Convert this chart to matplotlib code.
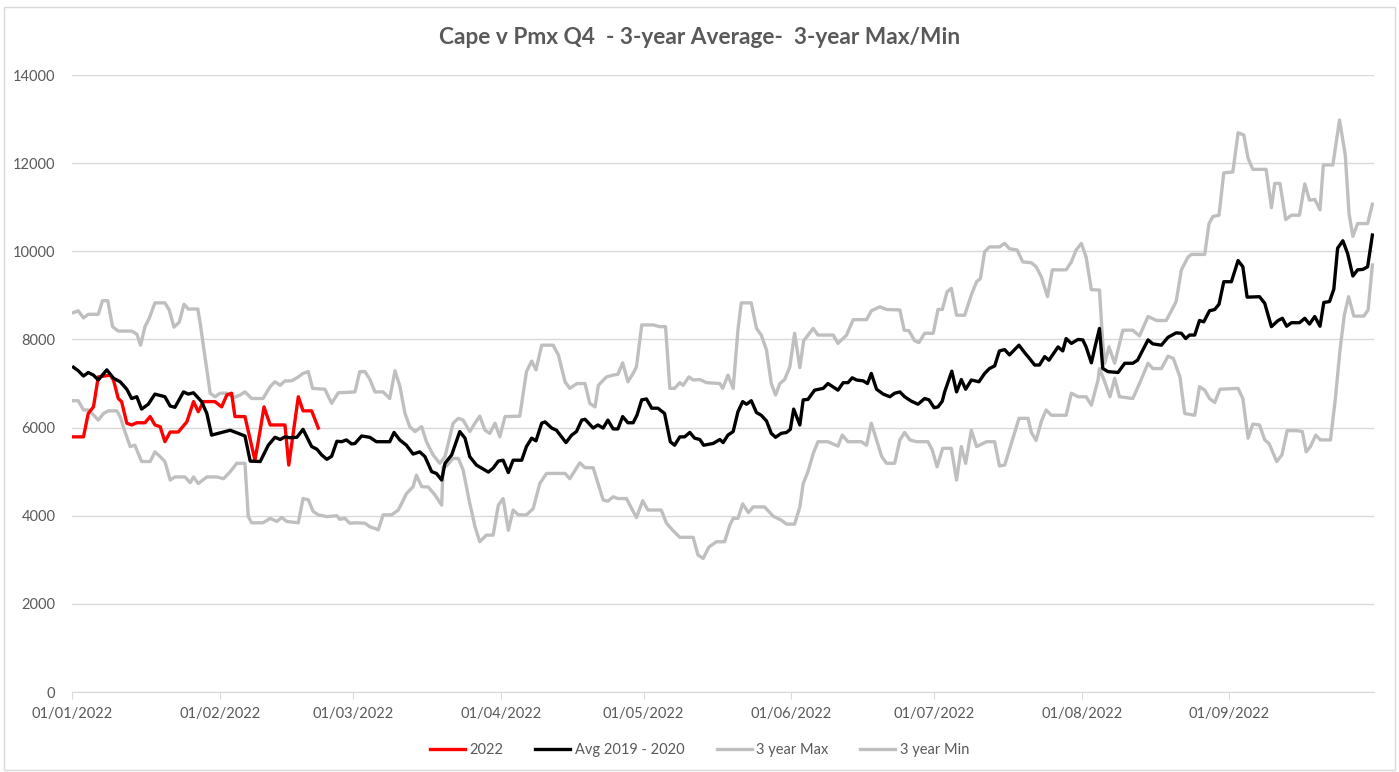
import pandas as pd
import matplotlib.pyplot as plt
import matplotlib.dates as mdates
from matplotlib.patches import Rectangle

# days since 01/01/2022 and values
days_2022 = [0.3, 2.4, 3.4, 4.5, 5.5, 8.0, 8.7, 9.7, 10.4, 11.5, 12.5, 13.6, 15.3, 16.4, 17.4, 18.5,
             19.5, 20.6, 22.3, 24.1, 25.5, 26.5, 27.6, 30.0, 31.4, 32.5, 33.5, 34.2, 36.3, 38.4, 39.5,
             40.3, 41.6, 44.7, 45.5, 47.5, 48.5, 50.3, 51.7]
vals_2022 = [5790, 5790, 6320, 6470, 7150, 7190, 7080, 6660, 6590, 6100, 6060, 6110, 6110, 6250, 6060, 6020,
             5680, 5900, 5900, 6130, 6590, 6360, 6590, 6590, 6470, 6740, 6780, 6250, 6250, 5260, 5940,
             6470, 6060, 6060, 5150, 6700, 6380, 6380, 5990]

days_avg = [0.3, 1.3, 2.4, 3.4, 4.5, 5.5, 7.3, 8.7, 10.1, 11.5, 12.5, 13.6, 14.6, 16.0, 17.4, 19.5,
            20.6, 21.6, 23.4, 24.4, 25.5, 27.2, 28.3, 29.3, 33.2, 34.9, 36.3, 37.4, 39.5, 41.2, 42.6,
            43.7, 44.7, 45.7, 47.2, 48.5, 50.3, 51.4, 52.4, 53.5, 54.5, 55.6, 56.6, 57.6, 58.7, 59.4,
            60.8, 62.5, 63.9, 66.7, 67.6, 68.8, 70.2, 71.6, 73.0, 74.1, 75.5, 76.5, 77.6, 78.3, 79.7,
            81.4, 82.5, 83.5, 84.9, 86.3, 87.4, 88.4, 89.5, 90.5, 91.6, 92.6, 94.4, 95.4, 96.5, 97.4,
            98.6, 99.3, 100.7, 101.7, 103.7, 104.9, 105.9, 107.0, 107.7, 109.4, 110.4, 111.5, 112.5,
            113.6, 114.6, 115.6, 116.7, 117.8, 118.6, 119.6, 120.6, 121.7, 123.0, 124.4, 125.1, 125.6,
            126.5, 127.6, 128.6, 129.7, 130.7, 131.8, 132.6, 134.6, 136.0, 136.7, 137.7, 138.8, 139.8,
            140.8, 141.6, 142.6, 143.7, 144.7, 145.8, 146.8, 147.7, 148.9, 150.0, 150.8, 151.5, 152.8,
            153.5, 154.5, 155.9, 157.7, 158.7, 160.8, 161.9, 162.9, 163.8, 164.7, 166.1, 167.0, 167.8,
            168.9, 170.3, 171.7, 172.7, 173.8, 174.8, 176.2, 177.6, 179.0, 179.9, 181.0, 181.8, 182.7,
            183.2, 184.7, 185.7, 186.7, 187.6, 188.8, 190.4, 191.6, 192.6, 193.7, 194.7, 195.8, 196.8,
            198.8, 200.0, 201.0, 202.1, 203.1, 204.2, 205.1, 207.0, 208.0, 208.7, 209.8, 211.2, 212.2,
            212.9, 214.0, 214.7, 215.7, 216.4, 217.5, 219.6, 221.0, 222.7, 223.7, 224.8, 225.9, 226.9,
            228.7, 230.1, 231.8, 232.9, 233.8, 234.6, 235.7, 236.7, 237.6, 238.8, 239.9, 240.8, 241.8,
            243.4, 244.8, 245.8, 246.7, 249.3, 250.4, 251.8, 253.2, 254.1, 255.0, 256.0, 257.7, 258.8,
            259.8, 260.9, 262.0, 262.8, 264.0, 264.9, 265.7, 266.8, 267.8, 268.9, 269.9, 271.0, 272.0,
            273.0]
vals_avg = [7370, 7290, 7170, 7250, 7190, 7080, 7310, 7120, 7040, 6870, 6660, 6700, 6420, 6530, 6760, 6700,
            6490, 6460, 6810, 6760, 6790, 6590, 6320, 5830, 5940, 5870, 5810, 5240, 5230, 5600, 5780,
            5730, 5790, 5770, 5780, 5960, 5570, 5510, 5380, 5280, 5350, 5690, 5680, 5720, 5630, 5640,
            5810, 5780, 5680, 5680, 5890, 5720, 5600, 5400, 5450, 5340, 5000, 4960, 4810, 5190, 5380,
            5910, 5760, 5340, 5150, 5060, 4990, 5080, 5240, 5260, 4980, 5260, 5260, 5570, 5760, 5700,
            6100, 6130, 5990, 5940, 5660, 5830, 5910, 6170, 6190, 5990, 6060, 5990, 6170,
            5970, 5970, 6250, 6110, 6110, 6280, 6630, 6650, 6440, 6440, 6320, 5940, 5680,
            5600, 5790, 5790, 5890, 5760, 5730, 5600, 5640, 5730, 5660, 5830, 5910, 6360,
            6590, 6530, 6610, 6340, 6280, 6150, 5870, 5780, 5870, 5890, 5960, 6420, 6060,
            6630, 6640, 6850, 6890, 7000, 6850, 7020, 7020, 7130, 7080, 7060, 7000, 7230,
            6870, 6760, 6700, 6780, 6810, 6700, 6600, 6530, 6660, 6630, 6450, 6470, 6600,
            6810, 7280, 6810, 7090, 6870, 7080, 7040, 7230, 7340, 7400, 7740, 7770, 7650,
            7870, 7700, 7570, 7420, 7420, 7610, 7530, 7830, 7740, 8020, 7910, 8000, 7990,
            7830, 7470, 7800, 8250, 7340, 7270, 7250, 7460, 7460, 7530, 7760, 7990, 7900,
            7870, 8050, 8150, 8140, 8020, 8100, 8100, 8430, 8400, 8650, 8680, 8800, 9310,
            9310, 9790, 9650, 8960, 8970, 8820, 8290, 8430, 8480, 8300, 8380, 8380, 8480,
            8350, 8520, 8300, 8840, 8860, 9140, 10070, 10240, 9950, 9440, 9580, 9590, 9650,
            10370]

days_max = [0.3, 1.3, 2.4, 3.4, 5.5, 6.4, 7.5, 8.5, 9.7, 12.5, 13.6, 14.4, 15.3, 16.2, 17.4, 19.5,
            20.4, 21.4, 22.5, 23.5, 24.4, 26.4, 26.9, 29.0, 30.0, 31.1, 32.5, 33.9, 35.3, 36.3, 37.7,
            40.1, 41.6, 42.6, 43.7, 44.7, 46.1, 47.5, 48.5, 49.6, 50.5, 53.1, 54.5, 55.9, 59.4, 60.4,
            61.5, 62.5, 63.6, 65.3, 66.7, 67.8, 68.8, 69.9, 70.9, 72.0, 73.4, 74.4, 75.8, 77.2, 78.3,
            80.0, 81.1, 82.1, 83.5, 84.6, 85.6, 86.7, 87.7, 88.8, 89.8, 90.9, 94.0, 95.4, 96.5, 97.4,
            98.6, 101.0, 102.1, 103.5, 104.5, 106.0, 107.7, 108.7, 109.8, 110.5, 112.2, 113.6, 114.6,
            115.6, 116.7, 117.8, 118.5, 119.6, 122.0, 123.4, 124.6, 125.5, 126.5, 127.6, 128.3, 129.5,
            130.4, 131.8, 133.2, 136.0, 136.6, 137.7, 138.8, 139.8, 140.5, 142.6, 143.7, 144.7, 145.8,
            146.8, 147.7, 148.6, 149.6, 150.7, 151.7, 152.8, 153.6, 155.6, 156.6, 159.8, 160.8, 162.6,
            164.0, 166.8, 167.8, 169.6, 171.0, 173.8, 174.7, 175.7, 176.9, 177.8, 179.0, 180.8, 181.8,
            182.7, 183.7, 184.6, 185.7, 187.4, 188.8, 189.9, 190.7, 191.6, 192.6, 194.7, 195.8, 196.8,
            198.4, 199.6, 201.4, 202.4, 203.5, 204.8, 205.8, 208.7, 209.8, 210.8, 211.9, 212.9, 214.0,
            215.7, 216.4, 216.8, 217.7, 218.9, 220.6, 222.7, 224.1, 225.9, 227.7, 229.7, 230.7, 231.8,
            232.9, 234.3, 235.0, 237.8, 238.7, 239.5, 240.8, 241.8, 243.7, 244.8, 246.0, 246.9, 247.9,
            250.7, 251.8, 252.5, 253.6, 254.8, 256.0, 257.7, 258.8, 259.8, 260.9, 262.0, 262.7, 264.7,
            266.1, 267.3, 268.1, 268.9, 269.9, 272.0, 273.0]
vals_max = [8610, 8650, 8490, 8570, 8570, 8880, 8880, 8290, 8190, 8190, 8120, 7870, 8290, 8480, 8830, 8830,
            8670, 8280, 8390, 8800, 8690, 8690, 8370, 6780, 6700, 6780, 6780, 6680, 6740, 6810, 6660,
            6660, 6930, 7040, 6960, 7060, 7060, 7150, 7230, 7270, 6890, 6870, 6550, 6790, 6810, 7270,
            7270, 7100, 6810, 6810, 6660, 7290, 6950, 6320, 6020, 5910, 6020, 5680, 5380, 5190, 5340,
            6100, 6210, 6170, 5910, 6100, 6260, 5940, 5870, 6100, 5790, 6250, 6260, 7270, 7510, 7310,
            7870, 7870, 7650, 7040, 6890, 7000, 7000, 6550, 6470, 6960, 7150, 7190, 7210,
            7470, 7040, 7230, 7380, 8330, 8330, 8290, 8290, 6890, 6890, 7020, 6960, 7150,
            7080, 7090, 7020, 7000, 6890, 7190, 6890, 8210, 8830, 8830, 8250, 8100, 7760,
            7000, 6740, 7000, 7090, 7380, 8140, 7360, 7970, 8250, 8100, 8100, 7910, 8100,
            8450, 8450, 8650, 8740, 8680, 8670, 8210, 8200, 7970, 7930, 8140, 8140, 8680,
            8680, 9080, 9160, 8550, 8550, 9010, 9310, 9380, 9990, 10100, 10100, 10180, 10060,
            10030, 9760, 9740, 9650, 9420, 8970, 9580, 9580, 9760, 10030, 10180, 9870, 9130,
            9120, 7910, 7460, 7830, 7460, 8210, 8210, 8080, 8520, 8430, 8430, 8630, 8860,
            9580, 9870, 9930, 9930, 10630, 10790, 10820, 11780, 11800, 12690, 12640, 12110, 11860,
            11860, 10990, 11540, 11540, 10720, 10820, 10820, 11530, 11160, 11180, 10940, 11960, 11960,
            12980, 12190, 10850, 10340, 10630, 10630, 11070]

days_min = [0.3, 1.3, 2.4, 3.4, 4.5, 5.5, 6.6, 7.6, 9.4, 10.1, 11.1, 12.2, 13.2, 14.6, 16.4, 17.4,
            18.5, 19.5, 20.6, 21.6, 23.7, 24.8, 25.5, 26.5, 28.3, 30.4, 31.8, 33.2, 34.6, 36.3, 37.0,
            37.7, 40.1, 41.6, 43.0, 44.0, 45.1, 47.5, 48.5, 49.6, 50.6, 51.7, 53.5, 55.6, 56.2, 57.3,
            58.3, 59.7, 61.5, 62.5, 63.6, 64.3, 65.3, 67.1, 68.5, 70.2, 71.6, 72.3, 73.4, 74.8, 76.2,
            77.6, 77.9, 78.6, 80.0, 81.1, 82.1, 83.5, 84.6, 85.6, 87.0, 88.4, 89.5, 90.5, 91.6, 92.6,
            93.7, 95.4, 96.8, 98.2, 99.6, 103.5, 104.5, 106.6, 107.7, 109.4, 111.5, 112.5, 113.6, 114.6,
            116.4, 117.5, 118.5, 119.8, 120.9, 123.7, 124.8, 126.2, 127.6, 130.4, 131.4, 132.5, 133.7,
            135.3, 137.0, 138.1, 138.8, 139.8, 140.8, 142.0, 143.0, 145.4, 147.2, 148.9, 150.0, 151.7,
            152.8, 153.5, 154.5, 155.6, 156.6, 158.7, 160.8, 161.7, 162.9, 165.7, 166.8, 167.8, 168.9,
            170.0, 171.0, 172.7, 173.8, 174.8, 175.9, 177.3, 179.7, 180.6, 181.6, 182.8, 184.6, 185.7,
            186.7, 187.6, 188.8, 189.9, 192.0, 193.7, 194.7, 195.8, 197.2, 198.8, 200.7, 201.4, 202.4,
            203.5, 204.5, 205.6, 208.7, 209.8, 211.2, 212.9, 214.0, 215.4, 215.7, 216.8, 217.9, 218.9,
            219.9, 222.7, 224.1, 225.9, 226.9, 228.7, 230.1, 231.2, 232.6, 233.6, 235.7, 236.7, 237.8,
            238.8, 239.9, 241.0, 244.8, 245.8, 246.9, 247.9, 249.3, 250.4, 251.3, 252.9, 254.0, 255.1,
            257.2, 258.3, 259.1, 260.0, 261.1, 262.1, 264.2, 265.2, 266.2, 267.1, 268.0, 269.1, 271.2,
            272.1, 273.0]
vals_min = [6610, 6610, 6400, 6400, 6290, 6170, 6320, 6380, 6380, 6250, 5910, 5570, 5600, 5230, 5230, 5450,
            5340, 5230, 4810, 4880, 4880, 4750, 4880, 4730, 4880, 4880, 4840, 5000, 5190, 5190, 3980,
            3840, 3840, 3940, 3870, 3960, 3870, 3840, 4390, 4360, 4100, 4020, 3980, 4000, 3920, 3940,
            3830, 3840, 3830, 3750, 3710, 3680, 4020, 4020, 4130, 4500, 4660, 4920, 4660, 4650, 4470,
            4240, 5110, 5130, 5300, 5300, 5040, 4280, 3750, 3410, 3560, 3560, 4240, 4390, 3670, 4130,
            4020, 4020, 4160, 4730, 4960, 4960, 4840, 5200, 5090, 5090, 4360, 4330, 4430, 4390,
            4390, 4160, 3960, 4340, 4130, 4130, 3830, 3660, 3510, 3510, 3110, 3030, 3290,
            3410, 3410, 3790, 3940, 3940, 4270, 4070, 4200, 4200, 3990, 3900, 3810, 3810,
            4200, 4730, 5000, 5410, 5680, 5680, 5580, 5830, 5680, 5680, 5600, 6100, 5720,
            5340, 5190, 5190, 5720, 5890, 5720, 5680, 5680, 5490, 5110, 5530, 5530, 4810,
            5570, 5190, 5940, 5570, 5680, 5680, 5130, 5150, 5640, 6210, 6210, 5890, 5710,
            6140, 6400, 6280, 6280, 6780, 6700, 6700, 6510, 7080, 7340, 7040, 6700, 7120,
            6700, 6660, 7000, 7460, 7340, 7340, 7620, 7570, 7150, 6320, 6280, 6930, 6850,
            6660, 6570, 6870, 6890, 6660, 5760, 6080, 6060, 5720, 5640, 5230, 5380, 5930,
            5930, 5910, 5450, 5570, 5830, 5720, 5720, 6630, 7760, 8550, 8970, 8530, 8530,
            8670, 9690]

start = pd.Timestamp('2022-01-01')


def to_dates(days):
    return start + pd.to_timedelta(days, unit='D')


text_col = '#595959'
grid_col = '#d9d9d9'
gray = '#bfbfbf'
plt.rcParams['font.family'] = ['Lato', 'DejaVu Sans']

fig = plt.figure(figsize=(13.99, 7.72), dpi=100)
ax = fig.add_axes([0.0515, 0.1036, 0.9305, 0.7992])

lw = 2.4
ax.plot(to_dates(days_2022), vals_2022, color='#ff0000', lw=lw, label='2022', zorder=4)
ax.plot(to_dates(days_avg), vals_avg, color='black', lw=lw, label='Avg 2019 - 2020', zorder=5)
ax.plot(to_dates(days_max), vals_max, color=gray, lw=lw, label='3 year Max', zorder=3)
ax.plot(to_dates(days_min), vals_min, color=gray, lw=lw, label='3 year Min', zorder=3)

ax.set_ylim(0, 14000)
ax.set_yticks(range(0, 14001, 2000))
ax.set_xlim(start, start + pd.Timedelta(days=273.3))
ax.xaxis.set_major_locator(mdates.MonthLocator(bymonth=range(1, 10)))
ax.xaxis.set_major_formatter(mdates.DateFormatter('%d/%m/%Y'))

ax.grid(axis='y', color=grid_col, lw=1)
ax.set_axisbelow(True)
for s in ['top', 'right', 'left']:
    ax.spines[s].set_visible(False)
ax.spines['bottom'].set_color(grid_col)
ax.tick_params(axis='y', length=0, labelsize=10.5, labelcolor=text_col, pad=12)
ax.tick_params(axis='x', length=5, color=grid_col, labelsize=10.5, labelcolor=text_col, pad=6)

fig.text(0.5, 0.951, 'Cape v Pmx Q4  - 3-year Average-  3-year Max/Min', ha='center', va='center',
         fontsize=16.3, fontweight='bold', color=text_col)

leg = fig.legend(loc='center', bbox_to_anchor=(0.5, 0.028), ncol=4, frameon=False,
                 fontsize=10.5, handlelength=2.4, columnspacing=2.2, handletextpad=0.3)
for t in leg.get_texts():
    t.set_color(text_col)

fig.patches.append(Rectangle((0.003, 0.003), 0.994, 0.988, transform=fig.transFigure,
                             fill=False, edgecolor=grid_col, lw=1))

plt.savefig('out.png', dpi=100)
